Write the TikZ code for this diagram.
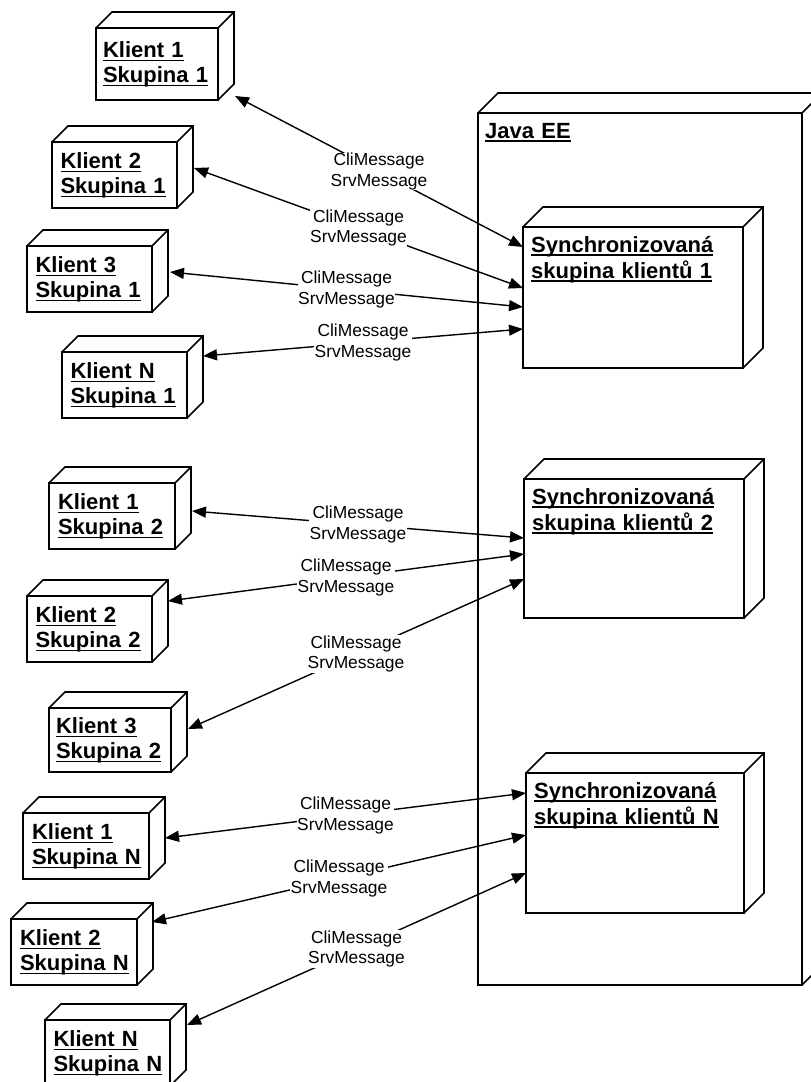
\documentclass[tikz,border=0pt]{standalone}
\usepackage{fontspec}
\setmainfont{Liberation Sans}
\usetikzlibrary{arrows.meta}
% underline at a fixed depth below the baseline
\newcommand\undl[1]{\leavevmode\setbox0=\hbox{#1}\rlap{\vrule width \wd0 height -2.4pt depth 4.2pt}\box0}

\begin{document}
\begin{tikzpicture}[x=1pt,y=1pt,
  cube/.style={draw, line width=1.6pt, fill=white, inner sep=0pt, outer sep=0pt, anchor=north west},
  client/.style 2 args={cube, minimum width=#1, minimum height=#2, text width=108pt, align=left,
    font=\fontsize{22}{25}\selectfont\bfseries},
  group/.style 2 args={cube, minimum width=#1, minimum height=#2},
  title/.style={anchor=base west, inner sep=0pt, text width=210pt, align=left,
    font=\fontsize{22}{26}\selectfont\bfseries},
  depth/.style={line width=1.6pt, line join=miter},
  conn/.style={line width=1.4pt, {Triangle[length=14pt,width=11pt]}-{Triangle[length=14pt,width=11pt]}},
  msg/.style={fill=white, inner sep=0.5pt, align=center, font=\fontsize{17.4}{20.5}\selectfont}]

\clip (0,0) rectangle (811,-1082);
\fill[white] (0,0) rectangle (811,-1082);

% application server
\node[group={324}{872}] (je) at (478,-113) {};
\node[title] (jet) at ([shift={(7,-25)}]je.north west) {\undl{Java EE}};

% synchronised client groups
\node[group={220}{141}] (s1) at (523,-227) {};
\node[group={220}{139}] (s2) at (524,-479) {};
\node[group={218}{140}] (sN) at (526,-773) {};
\node[title] (s1t) at ([shift={(8,-25)}]s1.north west) {\undl{Synchronizovaná}\\\undl{skupina klientů 1}};
\node[title] (s2t) at ([shift={(8,-25)}]s2.north west) {\undl{Synchronizovaná}\\\undl{skupina klientů 2}};
\node[title] (sNt) at ([shift={(8,-25)}]sN.north west) {\undl{Synchronizovaná}\\\undl{skupina klientů N}};

% clients
\node[client={122}{72}] (k11) at (96,-28)  {\undl{Klient 1}\\\undl{Skupina 1}};
\node[client={125}{66}] (k21) at (52,-142) {\undl{Klient 2}\\\undl{Skupina 1}};
\node[client={125}{66}] (k31) at (27,-246) {\undl{Klient 3}\\\undl{Skupina 1}};
\node[client={125}{66}] (kN1) at (62,-352) {\undl{Klient N}\\\undl{Skupina 1}};
\node[client={126}{66}] (k12) at (49,-483) {\undl{Klient 1}\\\undl{Skupina 2}};
\node[client={125}{66}] (k22) at (27,-596) {\undl{Klient 2}\\\undl{Skupina 2}};
\node[client={122}{64}] (k32) at (49,-708) {\undl{Klient 3}\\\undl{Skupina 2}};
\node[client={126}{66}] (k1N) at (23,-813) {\undl{Klient 1}\\\undl{Skupina N}};
\node[client={126}{66}] (k2N) at (11,-919) {\undl{Klient 2}\\\undl{Skupina N}};
\node[client={125}{66}] (kNN) at (45,-1020) {\undl{Klient N}\\\undl{Skupina N}};

% 3D depth of every box
\foreach \n/\d in {je/20,s1/20,s2/20,sN/20,k11/16,k21/16,k31/16,kN1/16,k12/16,k22/16,k32/16,k1N/16,k2N/16,kNN/16}{
  \draw[depth] (\n.north west) -- ++(\d,\d) -- ([shift={(\d,\d)}]\n.north east)
    -- ([shift={(\d,\d)}]\n.south east) -- (\n.south east)
    (\n.north east) -- ++(\d,\d);
}

% messages between clients and their groups
\draw[conn] ([shift={(17,-68)}]k11.north east) -- node[msg]{CliMessage\\SrvMessage} ([shift={(0,-20)}]s1.north west);
\draw[conn] ([shift={(17,-26)}]k21.north east) -- node[msg]{CliMessage\\SrvMessage} ([shift={(0,-61)}]s1.north west);
\draw[conn] ([shift={(18,-26)}]k31.north east) -- node[msg]{CliMessage\\SrvMessage} ([shift={(0,-80)}]s1.north west);
\draw[conn] ([shift={(16,-4)}]kN1.north east)  -- node[msg]{CliMessage\\SrvMessage} ([shift={(0,-102)}]s1.north west);

\draw[conn] ([shift={(17,-28)}]k12.north east) -- node[msg]{CliMessage\\SrvMessage} ([shift={(0,-59)}]s2.north west);
\draw[conn] ([shift={(16,-5)}]k22.north east)  -- node[msg]{CliMessage\\SrvMessage} ([shift={(0,-75)}]s2.north west);
\draw[conn] ([shift={(17,-21)}]k32.north east) -- node[msg]{CliMessage\\SrvMessage} ([shift={(0,-100)}]s2.north west);

\draw[conn] ([shift={(16,-25)}]k1N.north east) -- node[msg]{CliMessage\\SrvMessage} ([shift={(0,-20)}]sN.north west);
\draw[conn] ([shift={(15,-3)}]k2N.north east)  -- node[msg]{CliMessage\\SrvMessage} ([shift={(0,-62)}]sN.north west);
\draw[conn] ([shift={(17,-5)}]kNN.north east)  -- node[msg]{CliMessage\\SrvMessage} ([shift={(0,-100)}]sN.north west);
\end{tikzpicture}
\end{document}
